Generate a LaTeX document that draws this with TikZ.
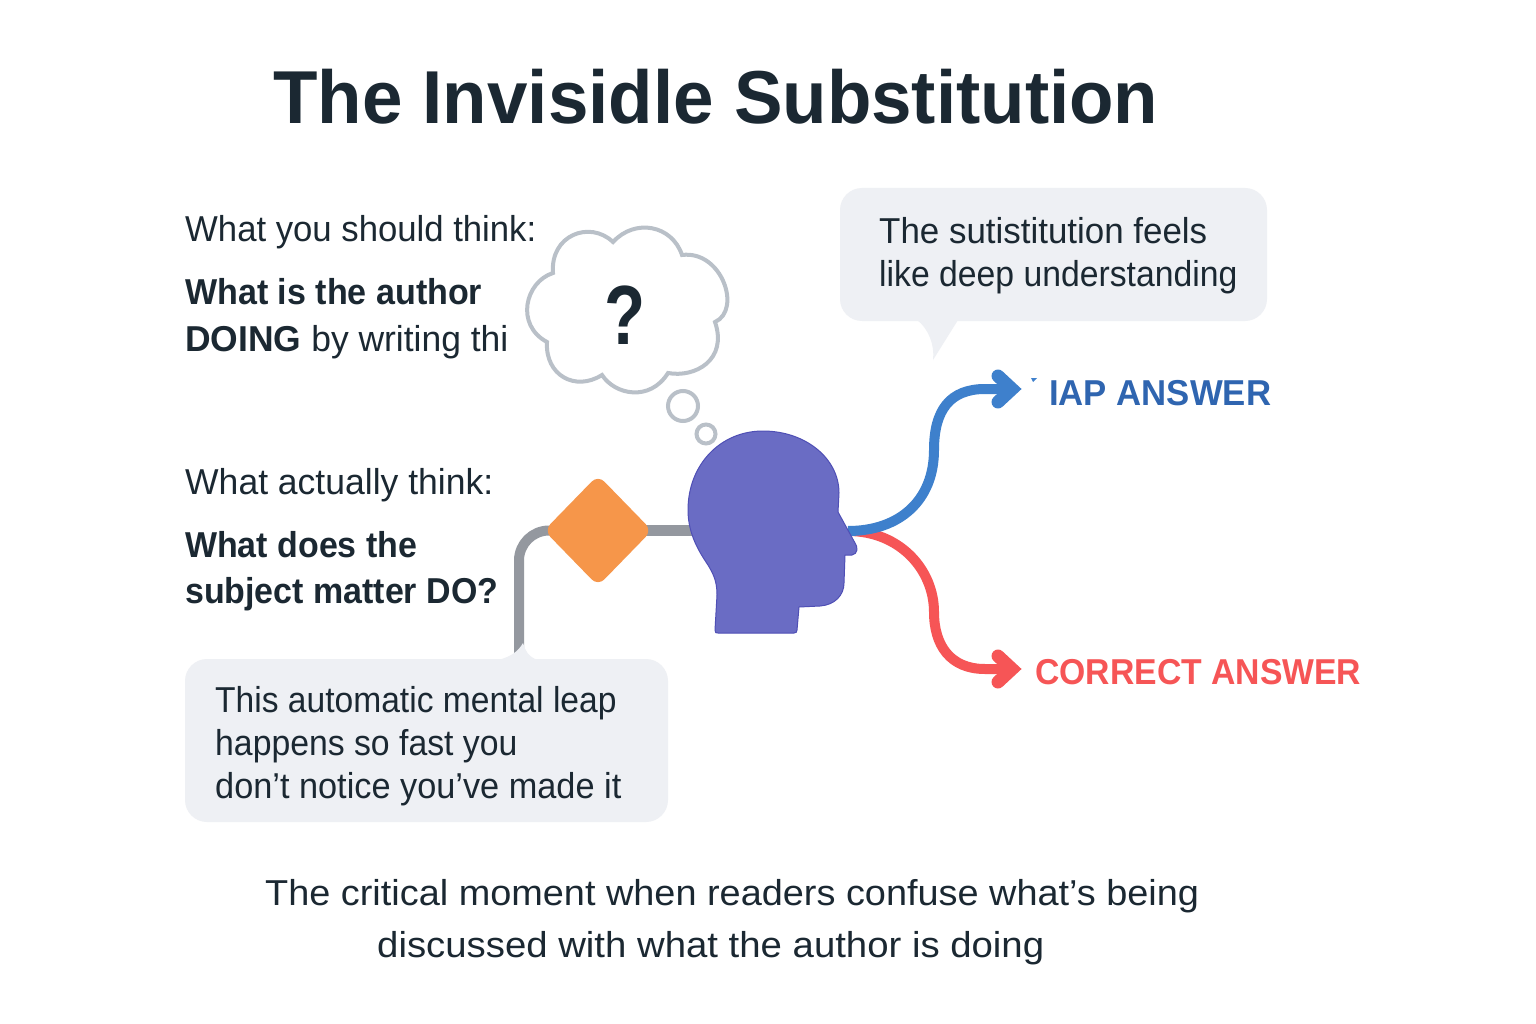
\documentclass[tikz,border=0pt]{standalone}
\usepackage{graphicx}
\usepackage{fontspec}
\setmainfont{Liberation Sans}
\usetikzlibrary{shapes.geometric,backgrounds}
\newcommand{\fitx}[2]{\scalebox{#1}[1]{#2}}
\definecolor{ink}{HTML}{1B2832}
\definecolor{bubble}{HTML}{EEF0F4}
\definecolor{cloudline}{HTML}{B9C0C8}
\definecolor{connector}{HTML}{94989F}
\definecolor{headfill}{HTML}{6A6CC4}
\definecolor{headline}{HTML}{4F4FB5}
\definecolor{orangefill}{HTML}{F6964A}
\definecolor{bluearrow}{HTML}{3E80CC}
\definecolor{bluetext}{HTML}{2F65B0}
\definecolor{redarrow}{HTML}{F65556}
\tikzset{
  x=1pt,y=-1pt,
  body/.style={font=\fontsize{36}{36}\selectfont,text=ink,anchor=base west,inner sep=0pt},
  bodybold/.style={body,font=\fontsize{36}{36}\selectfont\bfseries},
  outcome/.style={font=\fontsize{36}{36}\selectfont\bfseries,anchor=base west,inner sep=0pt},
  panel/.style={fill=bubble,draw=none,rounded corners=22pt,inner sep=0pt},
  chevron/.style={line width=13pt,line cap=round,line join=miter},
}
\begin{document}
\begin{tikzpicture}
\useasboundingbox (0,0) rectangle (1536,1024);
\begin{scope}[on background layer]
\fill[white] (0,0) rectangle (1536,1024);
\end{scope}
\node[anchor=base west,inner sep=0pt,text=ink,font=\fontsize{75}{75}\selectfont\bfseries] (title) at (273,124) {\fitx{0.970}{The Invisidle Substitution}};

\node[body] (should) at (185,242) {\fitx{0.964}{What you should think:}};
\node[bodybold] (q1a) at (185,305) {\fitx{0.946}{What is the author}};
\node[body] (q1b) at (185,351) {\fitx{0.985}{\textbf{DOING} by writing thi}};
\node[body] (actual) at (185,494) {\fitx{0.987}{What actually think:}};
\node[bodybold] (q2a) at (185,557) {\fitx{0.943}{What does the}};
\node[bodybold] (q2b) at (185,603) {\fitx{0.943}{subject matter DO?}};

% cloud
\draw[cloudline,line width=4pt,fill=white,line join=miter]
 (553,273) .. controls (550,235) and (590,220) .. (613,242)
 .. controls (635,218) and (672,225) .. (682,255)
 .. controls (722,250) and (742,310) .. (715,322)
 .. controls (728,360) and (695,378) .. (668,373)
 .. controls (650,402) and (615,395) .. (602,375)
 .. controls (575,392) and (545,375) .. (547,342)
 .. controls (515,325) and (525,282) .. (553,273) -- cycle;
\node[inner sep=0pt,text=ink,font=\fontsize{84}{84}\selectfont\bfseries,anchor=base] (mark) at (625,344) {\fitx{0.8}{?}};
\node[circle,draw=cloudline,line width=4pt,minimum size=30pt,inner sep=0pt] (puffa) at (683,406) {};
\node[circle,draw=cloudline,line width=4pt,minimum size=19pt,inner sep=0pt] (puffb) at (706,434) {};

% top callout
\node[panel,minimum width=427pt,minimum height=133pt] (calloutA) at (1053.5,254.5) {};
\fill[bubble] (917,320) .. controls (928,328) and (935,345) .. (933,360) -- (958,320) -- cycle;
\node[body] (c1a) at (879,244) {\fitx{0.970}{The sutistitution feels}};
\node[body] (c1b) at (879,287) {\fitx{0.937}{like deep understanding}};

% bottom callout
\coordinate (tailend) at (519,655);
\node[diamond,aspect=1,fill=orangefill,rounded corners=9pt,minimum width=108pt,minimum height=111pt,inner sep=0pt] (dia) at (598,530.5) {};
\coordinate (headin) at (700,530.5);
\begin{scope}[on background layer]
\draw[connector,line width=10pt,rounded corners=30pt] (tailend) -- (519,530.5) -- (dia.center);
\draw[connector,line width=11pt] (dia.center) -- (headin);
\end{scope}
\node[panel,minimum width=483pt,minimum height=163pt] (calloutB) at (426.5,740.5) {};
\fill[bubble] (498,660) .. controls (510,657) and (518,652) .. (523,643) .. controls (525,650) and (528,657) .. (538,660) -- cycle;
\node[body] (c2a) at (215,712) {\fitx{0.933}{This automatic mental leap}};
\node[body] (c2b) at (215,755) {\fitx{0.938}{happens so fast you}};
\node[body] (c2c) at (215,798) {\fitx{0.953}{don’t notice you’ve made it}};

% arrows
\coordinate (nose) at (848,531);
\node[outcome,text=bluetext] (wrong) at (1049,405) {\fitx{0.965}{IAP ANSWER}};
\node[outcome,text=redarrow] (right) at (1035,684) {\fitx{0.937}{CORRECT ANSWER}};
\coordinate (bluetip) at (1008,389);
\coordinate (redtip) at (1008,669);
\draw[redarrow,line width=10pt] (nose) .. controls (900,531) and (934,570) .. (934,612) .. controls (934,645) and (950,669) .. (985,669) -- (redtip);
\draw[bluearrow,line width=10pt] (nose) .. controls (900,531) and (934,500) .. (934,450) .. controls (934,410) and (950,389) .. (985,389) -- (bluetip);
\draw[bluearrow,chevron] (998,376) -- (1012,389) -- (998,402);
\draw[redarrow,chevron] (998,656) -- (1012,669) -- (998,682);
\fill[bluearrow] (1031,378) -- (1037,378) -- (1033,382) -- cycle;

% head
\draw[headline,fill=headfill,line width=1pt]
 (715,630) .. controls (715,633) and (716,633) .. (718,633) -- (794,633)
 .. controls (796,633) and (797,632) .. (797,630) -- (799,607)
 -- (820,606) .. controls (835,605) and (844,595) .. (844,583) -- (845,555) -- (852,555)
 .. controls (858,554) and (858,547) .. (855,543) -- (838,512)
 -- (839,493) .. controls (839,458) and (805,431) .. (763,431)
 .. controls (720,431) and (688,465) .. (688,510)
 .. controls (688,535) and (700,553) .. (708,565)
 .. controls (714,575) and (717,582) .. (717,595) -- cycle;

% caption
\node[inner sep=0pt,anchor=base west,text=ink,font=\fontsize{36}{36}\selectfont] (cap1) at (265,905) {\fitx{1.052}{The critical moment when readers confuse what’s being}};
\node[inner sep=0pt,anchor=base west,text=ink,font=\fontsize{36}{36}\selectfont] (cap2) at (377,957) {\fitx{1.065}{discussed with what the author is doing}};
\end{tikzpicture}
\end{document}
